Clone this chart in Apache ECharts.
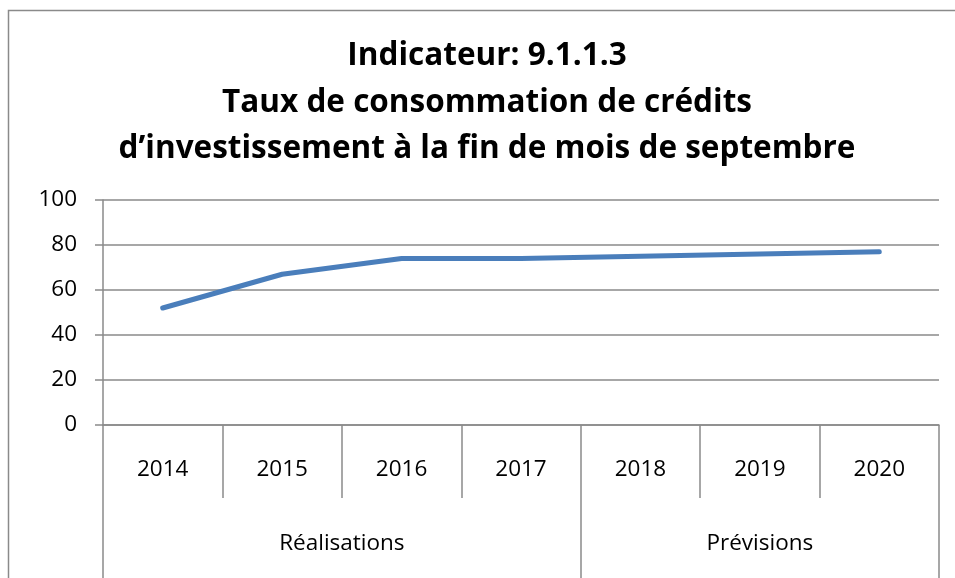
<!DOCTYPE html>
<html>
<head>
<meta charset="utf-8">
<script src="https://cdn.jsdelivr.net/npm/echarts@6/dist/echarts.min.js"></script>
<style>
  html, body { margin: 0; padding: 0; background: #fff; }
  #chart { width: 955px; height: 578px; }
</style>
</head>
<body>
<div id="chart"></div>
<script>
const years = ['2014', '2015', '2016', '2017', '2018', '2019', '2020']
const values = [52, 67, 74, 74, 75, 76, 77]
const groups = ['Réalisations', 'Prévisions']
const groupSizes = [4, 3]
const yTicks = { min: 0, max: 100, interval: 20 }
const titleLines = [
  'Indicateur: 9.1.1.3',
  'Taux de consommation de crédits',
  'd\u2019investissement à la fin de mois de septembre',
]

// group boundaries and centres on a 0..n value axis
const bounds = [0]
groupSizes.forEach(s => bounds.push(bounds[bounds.length - 1] + s))
const centres = groupSizes.map((s, i) => bounds[i] + s / 2)

const gridColor = '#8a8a8a'
const font = '"Open Sans", "Liberation Sans", sans-serif'

const chart = echarts.init(document.getElementById('chart'), null, { renderer: 'canvas' })

chart.setOption({
  backgroundColor: '#fff',
  animation: false,
  title: {
    text: titleLines.join('\n'),
    left: 487,
    top: 33,
    padding: 0,
    textAlign: 'center',
    textStyle: {
      fontFamily: font,
      fontWeight: 'bold',
      fontSize: 31.5,
      lineHeight: 46.5,
      color: '#000',
    },
  },
  graphic: [{
    type: 'rect',
    shape: { x: 8.5, y: 10.5, width: 960, height: 600 },
    style: { fill: null, stroke: '#8a8a8a', lineWidth: 1.5 },
    silent: true,
  }],
  grid: { left: 103, right: 16, top: 200, bottom: 153 },
  xAxis: [
    {
      type: 'category',
      data: years,
      boundaryGap: true,
      position: 'bottom',
      axisLine: { show: true, lineStyle: { color: gridColor, width: 1.5 } },
      axisTick: { show: true, interval: 0, length: 73, lineStyle: { color: gridColor, width: 1.5 } },
      axisLabel: { interval: 0, margin: 33, fontFamily: font, fontSize: 22.5, color: '#000' },
      splitLine: { show: false },
    },
    {
      type: 'value',
      min: 0,
      max: years.length,
      position: 'bottom',
      axisLine: { show: false },
      axisTick: { show: true, customValues: bounds, length: 155, lineStyle: { color: gridColor, width: 1.5 } },
      axisLabel: {
        customValues: centres,
        margin: 107,
        fontFamily: font,
        fontSize: 22.5,
        color: '#000',
        formatter: (v) => {
          const i = centres.indexOf(v)
          return i >= 0 ? groups[i] : ''
        },
      },
      splitLine: { show: false },
    },
  ],
  yAxis: {
    type: 'value',
    min: yTicks.min,
    max: yTicks.max,
    interval: yTicks.interval,
    axisLine: { show: true, lineStyle: { color: gridColor, width: 1.5 } },
    axisTick: { show: true, length: 8, lineStyle: { color: gridColor, width: 1.5 } },
    axisLabel: { margin: 26, fontFamily: font, fontSize: 22.5, color: '#000' },
    splitLine: { show: true, lineStyle: { color: gridColor, width: 1.5 } },
  },
  series: [{
    type: 'line',
    xAxisIndex: 0,
    data: values,
    symbol: 'none',
    lineStyle: { color: '#4a7ebb', width: 5, cap: 'round', join: 'round' },
  }],
})
</script>
</body>
</html>
